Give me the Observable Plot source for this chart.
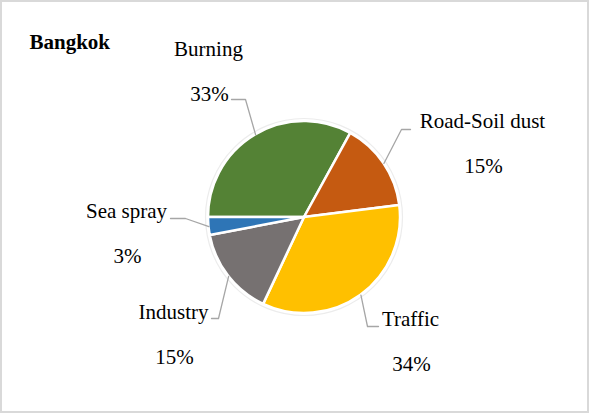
<!DOCTYPE html>
<html>
<head>
<meta charset="utf-8">
<script src="https://cdn.jsdelivr.net/npm/d3@7"></script>
<script src="https://cdn.jsdelivr.net/npm/@observablehq/plot@0.6"></script>
<style>
  html, body { margin: 0; padding: 0; background: #fff; }
  #chart { width: 592px; height: 415px; }
</style>
</head>
<body>
<div id="chart"></div>
<script>
// ---- Data ----
const title = "Bangkok";
const categories = ["Burning", "Road-Soil dust", "Traffic", "Industry", "Sea spray"];
const shares = [33, 15, 34, 15, 3];
const colors = ["#548235", "#C55A11", "#FFC000", "#767171", "#2E75B6"];

// ---- Layout (pixels) ----
const W = 592, H = 415;
const pieCenter = [304, 217];
const pieRadius = 96;
const fontSize = 21;
const lineGap = 45;   // baseline distance between name and percent
const labelLayout = {
  "Burning":        {x: 208, y: 55,  start: [231, 99],  elbow: [245, 99]},
  "Road-Soil dust": {x: 482, y: 127, start: [410, 129], elbow: [401, 129]},
  "Traffic":        {x: 410, y: 325, start: [378, 326], elbow: [367, 326]},
  "Industry":       {x: 173, y: 318, start: [211, 318], elbow: [218, 318]},
  "Sea spray":      {x: 126, y: 217, start: [170, 218], elbow: [185, 218]}
};

// ---- Build table ----
const total = d3.sum(shares);
const pieGen = d3.pie().sort(null).startAngle(-Math.PI / 2).endAngle(1.5 * Math.PI);
const arcs = pieGen(shares);
const table = categories.map((c, i) => {
  const a = arcs[i];
  const mid = (a.startAngle + a.endAngle) / 2;
  return {
    category: c,
    share: shares[i],
    color: colors[i],
    startAngle: a.startAngle,
    endAngle: a.endAngle,
    mid,
    pct: Math.round(shares[i] / total * 100) + "%"
  };
});

// leader lines: label -> elbow -> slice edge at mid angle
const leaders = [];
table.forEach(d => {
  const L = labelLayout[d.category];
  const edge = [pieCenter[0] + pieRadius * Math.sin(d.mid), pieCenter[1] - pieRadius * Math.cos(d.mid)];
  [L.start, L.elbow, edge].forEach((p, k) => leaders.push({category: d.category, x: p[0], y: p[1], k}));
});

// custom pie mark using Plot's scales
function pieMark(index, scales, values, dimensions, context) {
  const g = d3.create("svg:g");
  const cx = scales.x(pieCenter[0]), cy = scales.y(pieCenter[1]);
  const r = scales.x(pieCenter[0] + pieRadius) - cx;
  g.append("circle").attr("cx", cx).attr("cy", cy).attr("r", r + 2.5)
    .attr("fill", "none").attr("stroke", "#ececec").attr("stroke-width", 1.2);
  const arcGen = d3.arc().innerRadius(0).outerRadius(r);
  g.append("g").attr("transform", `translate(${cx},${cy})`)
    .selectAll("path").data(table).join("path")
    .attr("d", d => arcGen({startAngle: d.startAngle, endAngle: d.endAngle}))
    .attr("fill", d => d.color)
    .attr("stroke", "#fff")
    .attr("stroke-width", 2.5)
    .attr("stroke-linejoin", "round");
  return g.node();
}

const font = "'Liberation Serif', 'Times New Roman', serif";
const dyFix = -0.32 * fontSize;

const chart = Plot.plot({
  width: W,
  height: H,
  margin: 0,
  x: {domain: [0, W], range: [0, W], axis: null},
  y: {domain: [0, H], range: [0, H], axis: null},
  style: {fontFamily: font, background: "#fff"},
  marks: [
    Plot.rect([{}], {x1: 1, x2: 588, y1: 1, y2: 412, fill: "none", stroke: "#d9d9d9", strokeWidth: 2}),
    pieMark,
    Plot.line(leaders, {x: "x", y: "y", z: "category", stroke: "#a6a6a6", strokeWidth: 1.3, curve: "linear"}),
    Plot.text(table, {
      x: d => labelLayout[d.category].x,
      y: d => labelLayout[d.category].y,
      text: "category", fontSize, fill: "#000", textAnchor: "middle", dy: dyFix
    }),
    Plot.text(table, {
      x: d => labelLayout[d.category].x + 1,
      y: d => labelLayout[d.category].y + lineGap,
      text: "pct", fontSize, fill: "#000", textAnchor: "middle", dy: dyFix
    }),
    Plot.text([title], {
      x: 29, y: 48, text: d => d, fontSize, fontWeight: "bold", fill: "#000", textAnchor: "start", dy: dyFix
    })
  ]
});
document.getElementById("chart").append(chart);
</script>
</body>
</html>
